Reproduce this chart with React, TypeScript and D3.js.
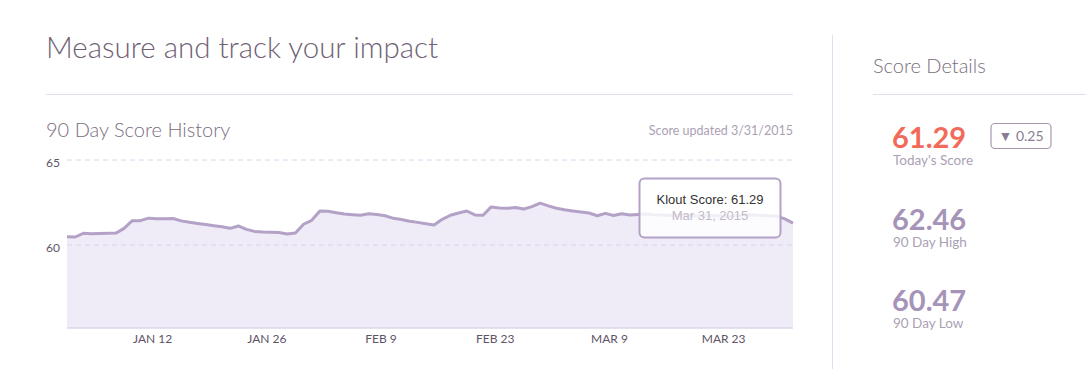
import React, { useEffect, useRef } from "react";
import * as d3 from "d3";

// daily klout score, Jan 1 - Mar 31 2015
const startDay = "2015-01-01";
const scores = [
  60.48, 60.47, 60.69, 60.66, 60.67, 60.69, 60.7, 60.98, 61.43, 61.43,
  61.58, 61.55, 61.55, 61.56, 61.42, 61.34, 61.27, 61.2, 61.13, 61.07,
  60.98, 61.12, 60.92, 60.8, 60.76, 60.75, 60.74, 60.65, 60.7, 61.22,
  61.45, 62.0, 61.98, 61.9, 61.82, 61.78, 61.75, 61.84, 61.8, 61.72,
  61.57, 61.5, 61.4, 61.33, 61.25, 61.18, 61.51, 61.75, 61.88, 62.0,
  61.77, 61.75, 62.24, 62.18, 62.16, 62.2, 62.12, 62.26, 62.46, 62.3,
  62.16, 62.07, 62.0, 61.94, 61.88, 61.72, 61.86, 61.74, 61.84, 61.76,
  61.8, 61.82, 61.78, 61.76, 61.74, 61.77, 61.75, 61.72, 61.7, 61.73,
  61.7, 61.68, 61.72, 61.76, 61.78, 61.74, 61.72, 61.7, 61.54, 61.29,
];
const yTicks = [60, 65];
const xTickDays = ["2015-01-12", "2015-01-26", "2015-02-09", "2015-02-23", "2015-03-09", "2015-03-23"];
const statLabels = ["Today's Score", "90 Day High", "90 Day Low"];

const purple = "#a693b8";
const textDark = "#6f6275";
const lato = "Lato, sans-serif";

function App() {
  const node = useRef<SVGSVGElement>(null);

  useEffect(() => {
    const svg = d3.select(node.current);
    svg.selectAll("*").remove();

    const parse = d3.timeParse("%Y-%m-%d");
    const start = d3.timeHour.offset(parse(startDay) as Date, 12);
    const data = scores.map((v, i) => ({ date: d3.timeDay.offset(start, i), value: v }));

    const left = 67, right = 793, top = 160, bottom = 328;

    const x = d3.scaleTime()
      .domain(d3.extent(data, d => d.date) as [Date, Date])
      .range([left, right]);
    const y = d3.scaleLinear()
      .domain([60, 65])
      .range([245, top]);
    // extend the y scale down to the plot floor
    const yMin = y.invert(bottom);
    y.domain([yMin, 65]).range([bottom, top]);

    // headings
    svg.append("text").attr("x", 46).attr("y", 58)
      .attr("font-family", lato).attr("font-weight", 300).attr("font-size", 29.5)
      .attr("fill", textDark).text("Measure and track your impact");
    svg.append("line").attr("x1", 46).attr("x2", 793).attr("y1", 94.5).attr("y2", 94.5)
      .attr("stroke", "#e2def0");
    svg.append("text").attr("x", 46).attr("y", 137)
      .attr("font-family", lato).attr("font-weight", 300).attr("font-size", 20)
      .attr("fill", "#7b6e80").text("90 Day Score History");
    svg.append("text").attr("x", 793).attr("y", 135).attr("text-anchor", "end")
      .attr("font-family", lato).attr("font-size", 12.5)
      .attr("fill", "#ab9fb5").text("Score updated 3/31/2015");

    // area + line
    const area = d3.area<{ date: Date; value: number }>()
      .x(d => x(d.date)).y0(bottom).y1(d => y(d.value));
    const line = d3.line<{ date: Date; value: number }>()
      .x(d => x(d.date)).y(d => y(d.value));

    svg.append("path").datum(data).attr("d", area).attr("fill", "#efebf7");

    // grid
    const grid = svg.append("g");
    yTicks.forEach(t => {
      grid.append("line").attr("x1", left).attr("x2", right)
        .attr("y1", y(t)).attr("y2", y(t))
        .attr("stroke", "#d9d4ea").attr("stroke-dasharray", "5,4");
      grid.append("text").attr("x", 46).attr("y", y(t) + 7)
        .attr("font-family", lato).attr("font-size", 12)
        .attr("fill", "#5e5466").text(t);
    });

    svg.append("line").attr("x1", left).attr("x2", right).attr("y1", bottom).attr("y2", bottom)
      .attr("stroke", "#dcd7ea").attr("stroke-width", 1.5);

    svg.append("path").datum(data).attr("d", line)
      .attr("fill", "none").attr("stroke", "#b4a1c7").attr("stroke-width", 3)
      .attr("stroke-linejoin", "round");

    // x axis labels
    const fmt = d3.timeFormat("%b %-d");
    xTickDays.forEach(s => {
      const d = parse(s) as Date;
      svg.append("text").attr("x", x(d)).attr("y", 343).attr("text-anchor", "middle")
        .attr("font-family", lato).attr("font-size", 12)
        .attr("fill", "#5e5466").text(fmt(d).toUpperCase());
    });

    // tooltip
    const last = data[data.length - 1];
    const tip = svg.append("g");
    tip.append("rect").attr("x", 639.5).attr("y", 178.5).attr("width", 141).attr("height", 59)
      .attr("rx", 5).attr("fill", "#ffffff").attr("fill-opacity", 0.82)
      .attr("stroke", "#b4a1c7").attr("stroke-width", 2);
    tip.append("text").attr("x", 710).attr("y", 204).attr("text-anchor", "middle")
      .attr("font-family", "'Liberation Sans', Arial, sans-serif").attr("font-size", 13)
      .attr("fill", "#333").text(`Klout Score: ${last.value.toFixed(2)}`);
    tip.append("text").attr("x", 710).attr("y", 220).attr("text-anchor", "middle")
      .attr("font-family", "'Liberation Sans', Arial, sans-serif").attr("font-size", 13)
      .attr("fill", "#c2bac8").text(d3.timeFormat("%b %-d, %Y")(last.date));

    // side panel
    svg.append("line").attr("x1", 832.5).attr("x2", 832.5).attr("y1", 35).attr("y2", 369)
      .attr("stroke", "#e2def0");
    svg.append("text").attr("x", 873).attr("y", 73)
      .attr("font-family", lato).attr("font-weight", 300).attr("font-size", 20)
      .attr("fill", "#7b6e80").text("Score Details");
    svg.append("line").attr("x1", 873).attr("x2", 1086).attr("y1", 94.5).attr("y2", 94.5)
      .attr("stroke", "#e2def0");

    const prev = scores[scores.length - 2];
    const stats = [
      { value: last.value, color: "#f26a5a", y: 148 },
      { value: d3.max(scores) as number, color: purple, y: 230 },
      { value: d3.min(scores) as number, color: purple, y: 311 },
    ];
    stats.forEach((s, i) => {
      svg.append("text").attr("x", 892).attr("y", s.y)
        .attr("font-family", lato).attr("font-weight", 700).attr("font-size", 29)
        .attr("fill", s.color).text(s.value.toFixed(2));
      svg.append("text").attr("x", 893).attr("y", s.y + 17)
        .attr("font-family", lato).attr("font-size", 13.5)
        .attr("fill", "#ab9fb5").text(statLabels[i]);
    });

    svg.append("rect").attr("x", 991).attr("y", 123.5).attr("width", 60).attr("height", 25)
      .attr("rx", 4).attr("fill", "none").attr("stroke", "#a898ae").attr("stroke-width", 1.2);
    svg.append("text").attr("x", 1021).attr("y", 141).attr("text-anchor", "middle")
      .attr("font-family", lato).attr("font-size", 14)
      .attr("fill", "#8a7c92").text(`▼ ${(prev - last.value).toFixed(2)}`);
  }, []);

  return (
    <svg ref={node} width={1086} height={369}
      style={{ position: "absolute", left: 0, top: 0, background: "#fff" }} />
  );
}

export default App;
